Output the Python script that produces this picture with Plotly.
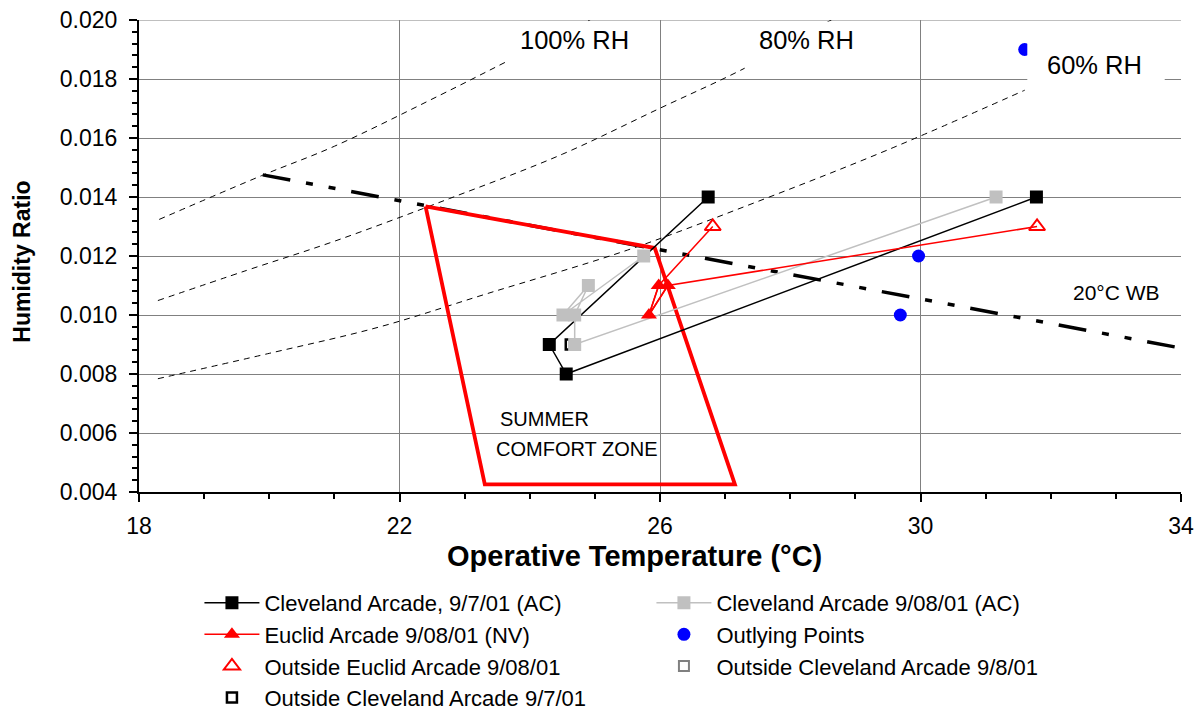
import plotly.graph_objects as go

# ---------------- data ----------------
# Cleveland Arcade, 9/7/01 (AC) - path order
cle7_temp = [26.74, 24.30, 24.56, 31.78]
cle7_hr = [0.0140, 0.0090, 0.0080, 0.0140]

# Cleveland Arcade 9/08/01 (AC) - path order
cle8_temp = [31.16, 24.69, 24.69, 24.90, 24.51, 25.75]
cle8_hr = [0.0140, 0.0090, 0.0100, 0.0110, 0.0100, 0.0120]

# Euclid Arcade 9/08/01 (NV) - interior points
euc_temp = [26.12, 25.83, 25.98]
euc_hr = [0.0110, 0.0100, 0.0110]

# Outside Euclid Arcade 9/08/01
out_euc_temp = [31.79, 26.81]
out_euc_hr = [0.0130, 0.0130]

# Outlying points
outl_temp = [29.97, 29.69, 31.60]
outl_hr = [0.0120, 0.0100, 0.0190]

# Outside Cleveland Arcade 9/8/01 (hidden under filled marker)
out_cle8_temp = [24.69]
out_cle8_hr = [0.0090]

# Outside Cleveland Arcade 9/7/01
out_cle7_temp = [24.63]
out_cle7_hr = [0.0090]

# Summer comfort zone outline
cz_temp = [22.40, 25.92, 27.15, 23.31, 22.40]
cz_hr = [0.01368, 0.01227, 0.00426, 0.00426, 0.01368]

# 20 C wet bulb line
wb_temp = [19.90, 34.0]
wb_hr = [0.01475, 0.00888]

# relative humidity curves (read points)
rh100_temp = [18.31, 19.90, 21.00, 22.62, 23.69, 24.92, 25.12]
rh100_hr = [0.01324, 0.01474, 0.01572, 0.01745, 0.01864, 0.02000, 0.02024]
rh80_temp = [18.29, 19.65, 21.00, 22.77, 24.50, 26.00, 27.33, 28.68]
rh80_hr = [0.01049, 0.01151, 0.01250, 0.01395, 0.01545, 0.01701, 0.01840, 0.02007]
rh60_temp = [18.29, 20.00, 21.70, 23.34, 25.50, 27.48, 29.50, 31.60]
rh60_hr = [0.00784, 0.00870, 0.00960, 0.01072, 0.01220, 0.01383, 0.01560, 0.01762]

x_ticks = [18, 22, 26, 30, 34]
y_ticks = [0.004, 0.006, 0.008, 0.010, 0.012, 0.014, 0.016, 0.018, 0.020]

FONT = "Liberation Sans, Arial, sans-serif"

fig = go.Figure()

# RH curves
for tx, ty in [(rh100_temp, rh100_hr), (rh80_temp, rh80_hr), (rh60_temp, rh60_hr)]:
    fig.add_trace(go.Scatter(x=tx, y=ty, mode="lines", line=dict(color="black", width=1, dash="6px,5px"),
                             line_shape="spline", showlegend=False, hoverinfo="skip"))

# wet bulb line
fig.add_trace(go.Scatter(x=wb_temp, y=wb_hr, mode="lines",
                         line=dict(color="black", width=3.5, dash="28px,16px,7px,16px,7px,16px"),
                         showlegend=False, hoverinfo="skip"))

# comfort zone
fig.add_trace(go.Scatter(x=cz_temp, y=cz_hr, mode="lines", line=dict(color="#ff0000", width=3.8),
                         showlegend=False, hoverinfo="skip"))

# outside markers (drawn under)
fig.add_trace(go.Scatter(x=out_cle7_temp, y=out_cle7_hr, mode="markers", name="Outside Cleveland Arcade 9/7/01",
                         marker=dict(symbol="square-open", size=10, color="black", line=dict(width=2.5)),
                         legendrank=7))
fig.add_trace(go.Scatter(x=out_cle8_temp, y=out_cle8_hr, mode="markers", name="Outside Cleveland Arcade 9/8/01",
                         marker=dict(symbol="square-open", size=10, color="#808080", line=dict(width=2)),
                         legendrank=6))

# Cleveland 9/7
fig.add_trace(go.Scatter(x=cle7_temp, y=cle7_hr, mode="lines+markers", name="Cleveland Arcade, 9/7/01 (AC)",
                         line=dict(color="black", width=1.5),
                         marker=dict(symbol="square", size=13, color="black"), legendrank=1))
# Cleveland 9/08
fig.add_trace(go.Scatter(x=cle8_temp, y=cle8_hr, mode="lines+markers", name="Cleveland Arcade 9/08/01 (AC)",
                         line=dict(color="#c0c0c0", width=1.5),
                         marker=dict(symbol="square", size=13, color="#c0c0c0"), legendrank=2))
# Euclid full path line (connects to outside points)
fig.add_trace(go.Scatter(x=[out_euc_temp[0]] + euc_temp + [out_euc_temp[1]],
                         y=[out_euc_hr[0]] + euc_hr + [out_euc_hr[1]],
                         mode="lines", line=dict(color="#ff0000", width=1.5), showlegend=False, hoverinfo="skip"))
fig.add_trace(go.Scatter(x=euc_temp, y=euc_hr, mode="lines+markers", name="Euclid Arcade 9/08/01 (NV)",
                         line=dict(color="#ff0000", width=1.5),
                         marker=dict(symbol="triangle-up", size=14, color="#ff0000"), legendrank=3))
fig.add_trace(go.Scatter(x=out_euc_temp, y=out_euc_hr, mode="markers", name="Outside Euclid Arcade 9/08/01",
                         marker=dict(symbol="triangle-up-open", size=14, color="#ff0000", line=dict(width=2)),
                         legendrank=5))
fig.add_trace(go.Scatter(x=outl_temp, y=outl_hr, mode="markers", name="Outlying Points",
                         marker=dict(symbol="circle", size=13, color="#0000ff"), legendrank=4))

# top grid line (kept explicit so it shows at the plot edge) and white label boxes
shapes = [dict(type="line", xref="x", yref="y", x0=x_ticks[0], x1=x_ticks[-1], y0=y_ticks[-1], y1=y_ticks[-1],
               line=dict(color="#808080", width=1), layer="below")]
for x0, x1, y0, y1 in [(23.65, 25.84, 0.01806, 0.01995), (27.30, 29.45, 0.01806, 0.01995),
                       (31.64, 33.75, 0.01711, 0.01959)]:
    shapes.append(dict(type="rect", xref="x", yref="y", x0=x0, x1=x1, y0=y0, y1=y1,
                       fillcolor="white", line=dict(width=0), layer="above"))

ann = []
def txt(x, y, s, size, bold=False, xref="x", yref="y", **kw):
    ann.append(dict(x=x, y=y, xref=xref, yref=yref, text=("<b>%s</b>" % s) if bold else s, showarrow=False,
                    xanchor="center", yanchor="middle",
                    font=dict(family=FONT, size=size, color="black"), **kw))

txt(24.68, 0.01932, "100% RH", 25.5)
txt(28.25, 0.01932, "80% RH", 25.5)
txt(32.67, 0.01847, "60% RH", 25.5)
txt(33.01, 0.01076, "20°C WB", 21)
txt(24.22, 0.00648, "SUMMER", 20)
txt(24.72, 0.00546, "COMFORT ZONE", 20)

# plot area in screen pixels: left 139, right 1181.5, top 20, bottom 491.7 (page has 8px body offset)
PW = 1042.5
PH = 471.7
txt((635 - 139) / PW, -(556 - 491.7) / PH, "Operative Temperature (°C)", 29, bold=True, xref="paper", yref="paper")
txt(-(139 - 22) / PW, 1 - (261.5 - 20) / PH, "Humidity Ratio", 23, bold=True, xref="paper", yref="paper",
    textangle=-90)

fig.update_layout(
    width=1204, height=713, autosize=False,
    margin=dict(l=131, r=30.5, t=12, b=229.3, autoexpand=False),
    paper_bgcolor="white", plot_bgcolor="white",
    font=dict(family=FONT, size=22, color="black"),
    shapes=shapes, annotations=ann,
    showlegend=True,
    legend=dict(orientation="h", xref="container", yref="container", x=0.159, y=0.195,
                xanchor="left", yanchor="top",
                entrywidth=382, itemwidth=55, font=dict(family=FONT, size=22, color="black"),
                bgcolor="rgba(0,0,0,0)", traceorder="normal"),
    xaxis=dict(range=[18, 34], tickmode="array", tickvals=x_ticks, ticktext=[str(v) for v in x_ticks],
               automargin=False,
               showgrid=True, gridcolor="#808080", gridwidth=1, zeroline=False,
               showline=True, linecolor="black", linewidth=2,
               ticks="outside", ticklen=8, tickwidth=1.5, tickcolor="black", ticklabelstandoff=4,
               ticklabeloverflow="allow",
               tickfont=dict(family=FONT, size=23),
               minor=dict(dtick=1, tick0=18, ticks="outside", ticklen=5, tickwidth=1.5, tickcolor="black",
                          showgrid=False)),
    yaxis=dict(range=[0.004, 0.0200001], tickmode="array", tickvals=y_ticks,
               ticktext=["%.3f" % v for v in y_ticks],
               automargin=False,
               showgrid=True, gridcolor="#808080", gridwidth=1, zeroline=False,
               showline=True, linecolor="black", linewidth=2,
               ticks="outside", ticklen=8, tickwidth=1.5, tickcolor="black", ticklabelstandoff=7,
               ticklabeloverflow="allow",
               tickfont=dict(family=FONT, size=23),
               minor=dict(dtick=0.0004, tick0=0.004, ticks="outside", ticklen=5, tickwidth=1.5, tickcolor="black",
                          showgrid=False)),
)

fig.write_html("out.html")
